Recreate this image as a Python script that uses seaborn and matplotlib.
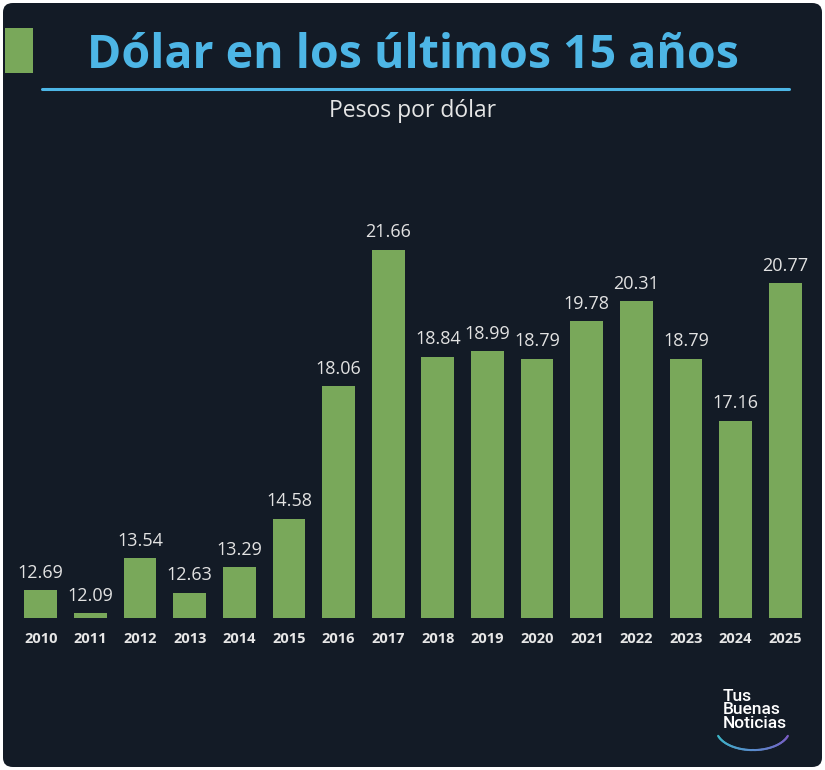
import numpy as np
import pandas as pd
import matplotlib
matplotlib.use("Agg")
import matplotlib.pyplot as plt
from matplotlib.patches import FancyBboxPatch, Rectangle
from matplotlib.colors import LinearSegmentedColormap
import seaborn as sns

# Data
years = ['2010', '2011', '2012', '2013', '2014', '2015', '2016', '2017',
         '2018', '2019', '2020', '2021', '2022', '2023', '2024', '2025']
pesos = [12.69, 12.09, 13.54, 12.63, 13.29, 14.58, 18.06, 21.66,
         18.84, 18.99, 18.79, 19.78, 20.31, 18.79, 17.16, 20.77]

bg = '#131b26'
green = '#79a85a'
blue = '#4db6e6'

sns.set_theme(style='white')
plt.rcParams['font.family'] = ['Open Sans', 'DejaVu Sans']

fig = plt.figure(figsize=(8.25, 7.7), dpi=100)
fig.patch.set_facecolor('white')

# rounded dark card
card = FancyBboxPatch((3 / 825, 3 / 770), 819 / 825, 764 / 770,
                      boxstyle='round,pad=0,rounding_size=0.012',
                      transform=fig.transFigure, facecolor=bg, edgecolor='none', zorder=-5)
fig.patches.append(card)

# green square + title
fig.patches.append(Rectangle((5 / 825, 1 - 73 / 770), 28 / 825, 45 / 770,
                             transform=fig.transFigure, facecolor=green, edgecolor='none'))
fig.text(0.5, 1 - 56 / 770, 'Dólar en los últimos 15 años', ha='center', va='center',
         color=blue, fontsize=33.5, fontweight='bold')
fig.add_artist(plt.Line2D([42 / 825, 789 / 825], [1 - 89 / 770, 1 - 89 / 770],
                          transform=fig.transFigure, color=blue, lw=2.2))
fig.text(0.5, 1 - 111 / 770, 'Pesos por dólar', ha='center', va='center',
         color='#e6e6e6', fontsize=16.5)

# bar chart
ax = fig.add_axes([16 / 825, 152 / 770, 794 / 825, 488 / 770], zorder=2)
ax.set_facecolor('none')
df = pd.DataFrame({'year': years, 'pesos': pesos})
sns.barplot(data=df, x='year', y='pesos', color=green, width=0.66,
            saturation=1, linewidth=0, edgecolor='none', ax=ax)
ax.set_ylim(11.96, 24.81)
ax.set_xlim(-0.5, len(years) - 0.5)
for i, v in enumerate(pesos):
    ax.text(i, v + 0.22, f'{v:.2f}', ha='center', va='bottom',
            color='#e2e2e2', fontsize=13)
ax.set_xlabel('')
ax.set_ylabel('')
ax.set_yticks([])
ax.tick_params(axis='x', length=0, pad=10, labelsize=10.5, labelcolor='#e6e6e6')
for lbl in ax.get_xticklabels():
    lbl.set_fontweight('bold')
sns.despine(ax=ax, left=True, bottom=True)

# logo
fig.text(723 / 825, 1 - 710 / 770, 'Tus\nBuenas\nNoticias', ha='left', va='center',
         color='white', fontsize=12.5, linespacing=0.85, fontweight='medium',
         family=['Roboto', 'DejaVu Sans'])
lax = fig.add_axes([714 / 825, 1 - 752 / 770, 78 / 825, 19 / 770], zorder=2)
lax.set_xlim(0, 1)
lax.set_ylim(0, 1)
lax.axis('off')
t = np.linspace(np.pi * 1.1, np.pi * 1.9, 60)
xs = 0.5 + 0.47 * np.cos(t)
ys = 1.187 + 1.087 * np.sin(t)
arc_cmap = LinearSegmentedColormap.from_list('logo', ['#3cb6c6', '#5a8ccc', '#7b5bc4'])
cols = arc_cmap(np.linspace(0, 1, len(t)))
for k in range(len(t) - 1):
    lax.plot(xs[k:k + 2], ys[k:k + 2], color=cols[k], lw=1.5, solid_capstyle='round')

fig.savefig('out.png', dpi=100, facecolor=fig.get_facecolor())
